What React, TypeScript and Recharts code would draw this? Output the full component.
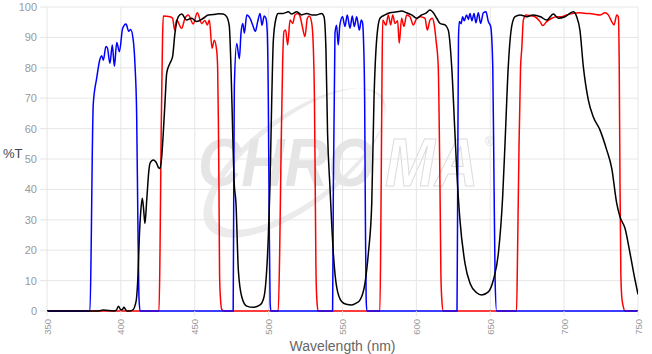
import React from "react";
import { LineChart, Line, XAxis, YAxis, CartesianGrid } from "recharts";

const xTicks = [350, 400, 450, 500, 550, 600, 650, 700, 750];
const yTicks = [0, 10, 20, 30, 40, 50, 60, 70, 80, 90, 100];

// excitation (blue)
const blueWl = [
  350, 379.1, 380, 380.6, 381.3, 383.6, 385.9, 387, 388.1, 389.9, 390.9, 392.6, 394.2, 395.6, 397.2, 399, 401.2,
  403.5, 405.3, 406.6, 408.4, 409.6, 410.7, 411.5, 412.2, 413,
  476, 476.4, 476.8, 478.4, 480.2, 481.3, 482.5, 483.6, 485.2, 487.4, 489.2, 491, 492.6, 494.2, 495.5, 497, 498.2,
  499.1, 499.8, 500.4, 501, 501.5,
  543.3, 543.8, 544.9, 546, 547.1, 548.2, 550, 551.7, 553.2, 555.1, 556.6, 558, 559.6, 561.4, 562.7, 563.5, 564.3,
  565, 565.5, 566, 566.5,
  627.5, 628, 628.5, 629.1, 630.3, 631.3, 632.4, 634, 635.2, 636.3, 637.6, 639, 640.3, 641.9, 643.5, 645.3, 647.1,
  648.7, 650.3, 651.7, 652.5, 653.3, 654.3, 750,
];
const blueT = [
  0, 0, 25, 50, 68, 76.5, 83, 84, 82.5, 87, 86.5, 81.5, 87.5, 80.5, 88.3, 85.3, 93,
  94.4, 92, 92.6, 89, 80.5, 64, 30, 5, 0,
  0, 40, 74, 88, 83, 91.4, 94.6, 91.4, 97.4, 96.3, 94.1, 92, 95.2, 97.9, 94, 97, 96.3,
  91.4, 69, 30, 3, 0,
  0, 40, 91.4, 94, 87.5, 94, 96.8, 93.6, 97.4, 93, 97, 93.6, 96.8, 92.4, 95.7, 95, 88,
  69, 30, 4, 0,
  0, 45, 90, 95.2, 94.5, 96.8, 95.5, 97.4, 95.9, 97.9, 95.5, 97.9, 94.8, 98.1, 94.6, 98.1, 98.4,
  95.2, 93.6, 80.4, 45, 10, 0, 0,
];

// emission (red)
const redWl = [
  350, 425.8, 426.5, 427.3, 428.2, 428.7, 433.2, 435, 436.4, 437.7, 441.1, 443.4, 445.6, 449, 451.7, 454.7, 456.9,
  458.5, 459.9, 461.7, 463.2, 464.8, 465.5, 466, 466.4, 466.8, 467.3, 468.3, 470,
  506.5, 507.5, 508.5, 509.5, 510.4, 511.5, 512.9, 514.5, 516.3, 517.8, 519.7, 521.2, 522.8, 524.6, 526.2, 527.5,
  529.2, 530.3, 531, 531.4, 532, 532.6, 533.5,
  575.3, 576, 576.7, 577.2, 579.4, 581, 582.6, 584, 585.5, 587.3, 588.4, 590, 591.6, 593.4, 595.7, 597.9, 600,
  602.5, 605.8, 607.4, 609.2, 610.8, 612.1, 613.3, 614.8, 615.5, 616, 616.6, 617.2, 618.2,
  667.8, 668.5, 669.5, 670.5, 671.3, 672.4, 674.2, 677, 680.3, 683.7, 685.5, 688.2, 691.6, 695, 698.3, 701.7, 706.2,
  710.7, 715.2, 719.7, 724.3, 727.7, 729.9, 732.2, 733.8, 735.6, 736.7, 737.3, 737.8, 738.4, 739, 740, 741.2, 750,
];
const redT = [
  0, 0, 20, 60, 90, 97, 96.8, 96.3, 92.4, 95.7, 93, 96.3, 97.4, 94.4, 98.1, 94.6, 95.6,
  94.1, 95.7, 86.4, 89.1, 85.9, 80, 62, 40, 12, 5, 0.5, 0,
  0, 20, 55, 82, 92, 92.4, 87.5, 95.7, 94.6, 97.4, 97.9, 97, 93.6, 90.3, 96.3, 97,
  94.6, 86, 70, 50, 15, 4, 0,
  0, 30, 75, 95.7, 94, 97.4, 94.1, 97.4, 94.6, 95.5, 88.1, 96.3, 93.6, 97.4, 96.8, 94.1, 96,
  96.8, 96.3, 92.4, 95.7, 96.3, 94.1, 89.1, 80.4, 60, 40, 12, 4, 0,
  0, 20, 55, 80, 86, 95.7, 97.4, 97.2, 96.8, 95.2, 93.9, 95.2, 96.3, 96.8, 96.8, 97.4, 97.9,
  98.1, 97.9, 97.7, 97.4, 98.1, 97.4, 95.2, 94.1, 97.4, 96.8, 80.4, 43, 12, 4.7, 1.5, 0, 0,
];

// dichroic (black)
const blackWl = [
  350, 385, 388, 395, 397, 398.3, 400, 401, 402.1, 403, 404, 406, 408.4, 409.7, 410.7, 411.6, 412.5, 413.5, 414.5,
  415.3, 416.3, 417.5, 419, 419.7, 421.9, 424.2, 425.3, 426.5, 427.5, 428.7, 430, 431, 433.2, 435, 436.6, 438.9,
  441.2, 444.5, 447.9, 451.3, 455.8, 459.2, 462.6, 466, 469.3, 471.6, 473.4, 474.5, 475.7, 476.6, 477.9, 479.5,
  481.8, 485.2, 489.6, 494.2, 496.9, 498.7, 499.8, 500.9, 502.1, 503.2, 505, 506.5, 509.9, 513.3, 515.6, 519,
  522.4, 525.7, 529.2, 532.5, 535.9, 537.5, 538.8, 539.9, 541.5, 543.8, 546, 549.4, 552.5, 556.2, 559, 561.8,
  565.2, 567.5, 569.8, 571.3, 573.1, 575.4, 578.8, 582.1, 586.7, 590, 593.4, 596.8, 600.2, 603.6, 606.5, 609.2,
  611.5, 613.8, 616, 619.4, 621.6, 623.9, 626.1, 627.3, 629.5, 632.9, 636.3, 640.8, 644.2, 648.7, 652.1, 655.5,
  658.4, 660, 662.2, 664.5, 666.8, 670.2, 674.7, 679.2, 684, 688.2, 692.7, 696.1, 700.6, 706.2, 708.5, 710.7, 713,
  716.4, 719.7, 724.3, 728.8, 732.2, 735.6, 737.8, 741.2, 744.6, 748, 750,
];
const blackT = [
  0, 0, 0.3, 0, 0.3, 1.6, 0.4, 0.5, 1.2, 0.6, 0, 0, 0.5, 2, 4.7, 12, 24.4, 33, 37.1,
  34, 28.8, 36.5, 46.4, 48.6, 49.7, 48.6, 47.3, 46.9, 50, 58.5, 70, 78.2, 81.5, 83.7, 91.4, 96.8,
  97.7, 95.7, 96.3, 95.2, 96.3, 97.4, 97.5, 97.8, 97.7, 96.8, 93.6, 80.4, 58.5, 43, 35.4, 13.5,
  4.7, 1.6, 1.2, 2, 4.7, 13.5, 24.4, 40.9, 69.4, 89.1, 96.3, 97.9, 97.9, 98.4, 97.7, 98.4,
  97.4, 97.9, 97.4, 97.4, 97.9, 96.8, 85.9, 58.5, 40.9, 19, 8, 3.1, 2.2, 2, 2.5, 3.6,
  9.1, 19, 35.4, 69.4, 89.1, 96.3, 97.4, 98.1, 98.4, 98.7, 98.1, 97.4, 96.3, 97.4, 98, 99,
  98.1, 96.3, 94.6, 94.1, 92.4, 80.4, 58.5, 46.4, 29.9, 15.7, 9.1, 6, 5.3, 6.3, 10.2, 19,
  37.6, 55.2, 80.4, 93.6, 96.8, 97.4, 96.8, 97.4, 96.8, 95.7, 97.7, 96.3, 96.8, 98.4, 96.8, 92.4, 80.4,
  69.4, 63.9, 59.5, 53, 47, 35.4, 31, 27.2, 19, 10.2, 5.5,
];

const zip = (wl: number[], t: number[], key: string) => wl.map((w, i) => ({ wl: w, [key]: t[i] }));

const font = '"Liberation Sans", Arial, sans-serif';

function ellipsePath(cx: number, cy: number, rx: number, ry: number, deg: number) {
  const a = (deg * Math.PI) / 180;
  const x1 = cx + rx * Math.cos(a), y1 = cy + rx * Math.sin(a);
  const x2 = cx - rx * Math.cos(a), y2 = cy - rx * Math.sin(a);
  return `M${x1} ${y1} A${rx} ${ry} ${deg} 1 0 ${x2} ${y2} A${rx} ${ry} ${deg} 1 0 ${x1} ${y1} Z`;
}

// faint logo behind the plot (letters stretched vertically so they stay narrow)
function Watermark() {
  return (
    <svg width={652} height={354} style={{ position: "absolute", left: 0, top: 0 }}>
      <path
        d={ellipsePath(294, 163, 108, 46, -37) + ellipsePath(299, 159, 104, 41, -37)}
        fill="#ebebeb"
        fillRule="evenodd"
      />
      <g transform="scale(1, 1.15)" fontFamily={font} fontSize={60} fontWeight="bold" fontStyle="italic">
        <text x={198} y={162} fill="#e5e5e5">CHRO</text>
        <text x={385} y={162} fill="none" stroke="#dcdcdc" strokeWidth={1}>MA</text>
      </g>
      <text x={485} y={146} fontFamily={font} fontSize={12} fill="#dcdcdc">®</text>
    </svg>
  );
}

function XTick({ x, y, payload }: any) {
  return (
    <text x={x} y={y} dy={3.5} transform={`rotate(-90, ${x}, ${y})`} textAnchor="end"
      fill="#999" fontSize={9.5} fontFamily={font}>
      {payload.value}
    </text>
  );
}

export default function App() {
  return (
    <div style={{ position: "absolute", left: 0, top: 0, width: 652, height: 354, background: "#fff" }}>
      <Watermark />
      <LineChart width={652} height={354} margin={{ top: 7, right: 14, bottom: 0, left: 0 }}>
        <CartesianGrid stroke="#e6e6e6" />
        <XAxis
          type="number"
          dataKey="wl"
          domain={[350, 750]}
          ticks={xTicks}
          allowDataOverflow
          height={43}
          tickSize={5}
          tickMargin={3}
          axisLine={false}
          tickLine={{ stroke: "#e6e6e6" }}
          tick={<XTick />}
          label={{ value: "Wavelength (nm)", position: "insideBottom", offset: 3, fill: "#666", fontSize: 14, fontFamily: font }}
        />
        <YAxis
          type="number"
          domain={[0, 100]}
          ticks={yTicks}
          width={47}
          tickSize={7}
          tickMargin={3}
          axisLine={false}
          tickLine={{ stroke: "#e6e6e6" }}
          tick={{ fontSize: 11, fill: "#999", fontFamily: font }}
          label={{ value: "%T", position: "insideLeft", offset: 3, dy: -6, fill: "#3b4656", fontSize: 13, fontFamily: font }}
        />
        <Line data={zip(redWl, redT, "red")} dataKey="red" type="monotone" stroke="#ff0000" strokeWidth={1.5}
          dot={false} isAnimationActive={false} />
        <Line data={zip(blueWl, blueT, "blue")} dataKey="blue" type="monotone" stroke="#0000ff" strokeWidth={1.5}
          dot={false} isAnimationActive={false} />
        <Line data={zip(blackWl, blackT, "black")} dataKey="black" type="monotone" stroke="#000000" strokeWidth={1.5}
          dot={false} isAnimationActive={false} />
      </LineChart>
    </div>
  );
}
